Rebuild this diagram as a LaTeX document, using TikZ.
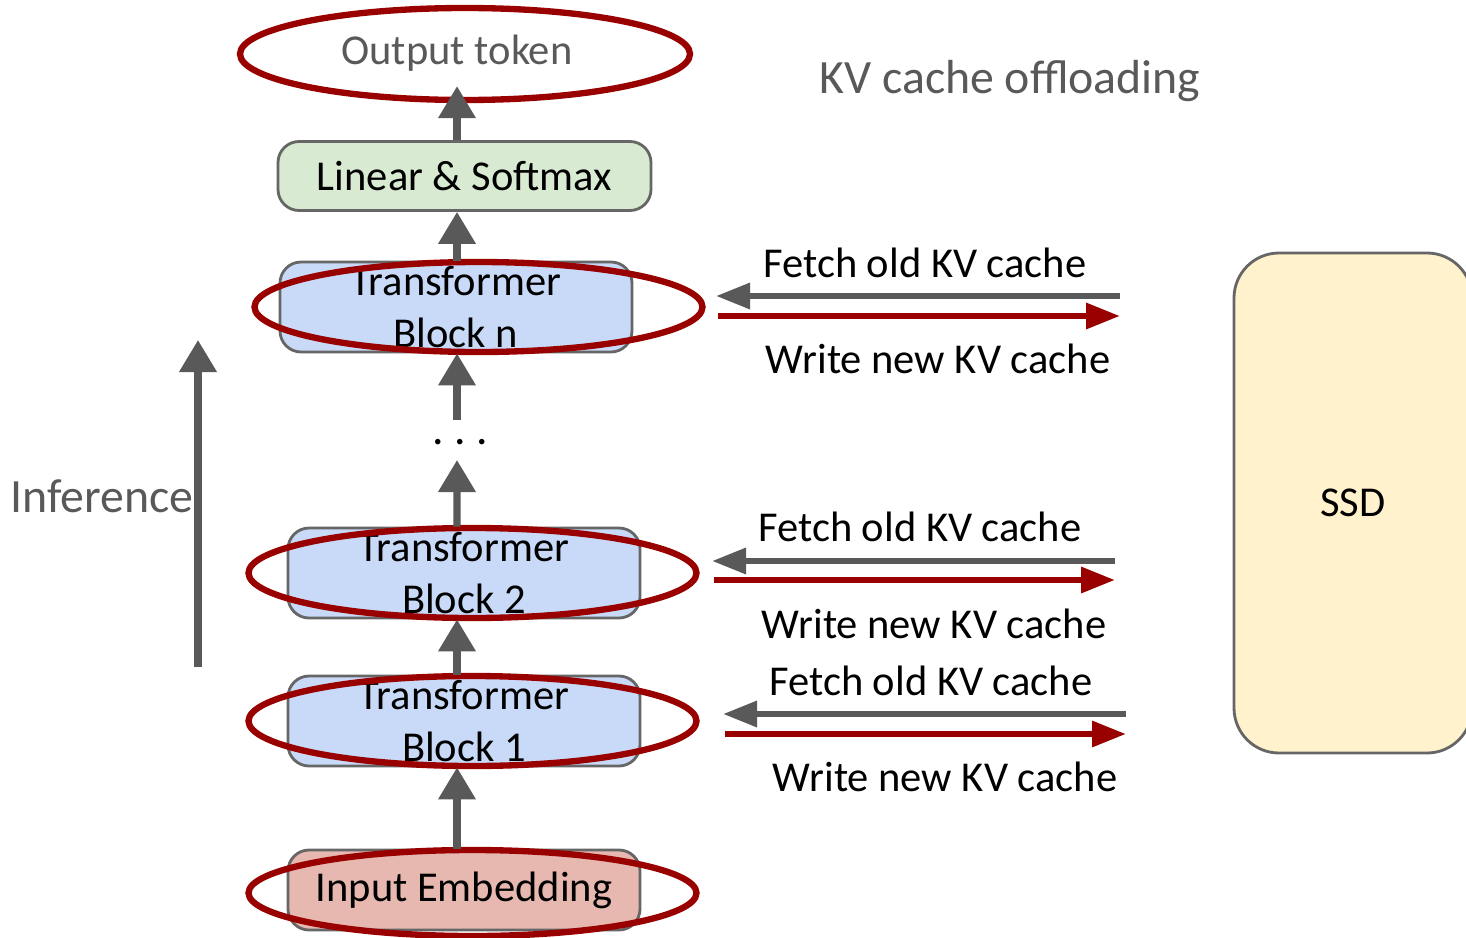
\documentclass[tikz,border=0pt]{standalone}
\usepackage{fontspec}
\setmainfont{Carlito}
\usetikzlibrary{arrows.meta,shapes.geometric}

\definecolor{arrgray}{HTML}{595959}
\definecolor{ringred}{HTML}{990000}
\definecolor{boxline}{HTML}{666666}
\definecolor{lingreen}{HTML}{D9EAD3}
\definecolor{tfblue}{HTML}{C9DAF8}
\definecolor{embpink}{HTML}{E6B8AF}
\definecolor{ssdyellow}{HTML}{FFF2CC}

\tikzset{
  txt/.style={font=\fontsize{12.1}{15}\selectfont, inner sep=0pt},
  block/.style={draw=boxline, thick, rounded corners=6pt, minimum width=3.52cm, align=center, font=\fontsize{12.1}{14.8}\selectfont, inner sep=0pt},
  ring/.style={draw=ringred, line width=1.8pt, ellipse, minimum width=4.48cm, minimum height=0.9cm, inner sep=0pt},
  up/.style={draw=arrgray, line width=2pt, -{Triangle[length=0.32cm,width=0.36cm]}},
  fetch/.style={draw=arrgray, line width=1.8pt, -{Triangle[length=0.34cm,width=0.25cm]}},
  write/.style={draw=ringred, line width=1.8pt, -{Triangle[length=0.34cm,width=0.25cm]}}
}

\begin{document}
\begin{tikzpicture}
  \useasboundingbox (0,0) rectangle (14.66,-9.38);
  \clip (0,0) rectangle (14.66,-9.38);
  \fill[white] (0,0) rectangle (14.66,-9.38);

  % the stack of layers
  \node[block, fill=lingreen, minimum width=3.73cm, minimum height=0.69cm] (lin) at (4.645,-1.76) {Linear \& Softmax};
  \node[block, fill=tfblue, minimum height=0.9cm] (tbn) at (4.56,-3.07) {Transformer\\Block n};
  \node[txt, font=\fontsize{13}{15}\selectfont] (dots) at (4.6,-4.42) {.\hspace{3pt}.\hspace{3pt}.};
  \node[block, fill=tfblue, minimum height=0.9cm] (tb2) at (4.64,-5.73) {Transformer\\Block 2};
  \node[block, fill=tfblue, minimum height=0.9cm] (tb1) at (4.64,-7.21) {Transformer\\Block 1};
  \node[block, fill=embpink, minimum height=0.8cm] (emb) at (4.64,-8.9) {Input Embedding};
  \node[txt, text=arrgray] (out) at (4.57,-0.53) {Output token};

  % red marks
  \node[ring, minimum width=4.5cm, minimum height=0.92cm] (rout) at (4.65,-0.54) {};
  \node[ring] (rtbn) at (4.785,-3.07) {};
  \node[ring] (rtb2) at (4.725,-5.73) {};
  \node[ring] (rtb1) at (4.725,-7.21) {};
  \node[ring, minimum height=0.86cm] (remb) at (4.725,-8.93) {};

  % flow upwards
  \draw[up] ([xshift=-0.07cm]emb.north) -- ([xshift=-0.07cm]tb1.south);
  \draw[up] ([xshift=-0.07cm]tb1.north) -- ([xshift=-0.07cm]tb2.south);
  \draw[up] ([xshift=-0.07cm]tb2.north) -- (4.57,-4.6);
  \draw[up] (4.57,-4.2) -- (tbn.south -| 4.57,0);
  \draw[up] (tbn.north -| 4.57,0) -- (lin.south -| 4.57,0);
  \draw[up] (lin.north -| 4.57,0) -- ([yshift=0.17cm]rout.south -| 4.57,0);

  % inference direction
  \coordinate (inf0) at (1.98,-6.67);
  \coordinate (inf1) at (1.98,-3.4);
  \draw[up] (inf0) -- (inf1);
  \node[txt, text=arrgray, font=\fontsize{13.6}{16}\selectfont] (inf) at (1.02,-4.96) {Inference};
  \node[txt, text=arrgray, font=\fontsize{13.6}{16}\selectfont] (title) at (10.1,-0.81) {KV cache offloading};

  % storage
  \node[draw=boxline, thick, fill=ssdyellow, rounded corners=0.45cm, minimum width=2.38cm, minimum height=5cm, font=\fontsize{12.1}{15}\selectfont] (ssd) at (13.53,-5.03) {SSD};

  % block n <-> ssd
  \coordinate (fn0) at (11.2,-2.96);
  \coordinate (fn1) at (7.16,-2.96);
  \coordinate (wn0) at (7.18,-3.16);
  \coordinate (wn1) at (11.2,-3.16);
  \draw[fetch] (fn0) -- (fn1);
  \draw[write] (wn0) -- (wn1);
  \node[txt] (fnl) at (9.25,-2.63) {Fetch old KV cache};
  \node[txt] (wnl) at (9.38,-3.59) {Write new KV cache};

  % block 2 <-> ssd
  \coordinate (f20) at (11.15,-5.61);
  \coordinate (f21) at (7.12,-5.61);
  \coordinate (w20) at (7.14,-5.8);
  \coordinate (w21) at (11.15,-5.8);
  \draw[fetch] (f20) -- (f21);
  \draw[write] (w20) -- (w21);
  \node[txt] (f2l) at (9.2,-5.27) {Fetch old KV cache};
  \node[txt] (w2l) at (9.34,-6.24) {Write new KV cache};

  % block 1 <-> ssd
  \coordinate (f10) at (11.26,-7.14);
  \coordinate (f11) at (7.23,-7.14);
  \coordinate (w10) at (7.25,-7.34);
  \coordinate (w11) at (11.26,-7.34);
  \draw[fetch] (f10) -- (f11);
  \draw[write] (w10) -- (w11);
  \node[txt] (f1l) at (9.31,-6.81) {Fetch old KV cache};
  \node[txt] (w1l) at (9.45,-7.77) {Write new KV cache};
\end{tikzpicture}
\end{document}
